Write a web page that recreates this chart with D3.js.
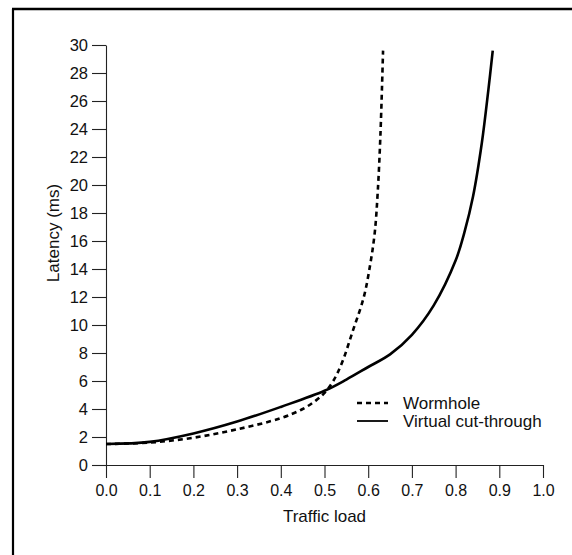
<!DOCTYPE html>
<html>
<head>
<meta charset="utf-8">
<script src="https://cdn.jsdelivr.net/npm/d3@7"></script>
<style>
  body { margin: 0; background: #fff; }
  svg { display: block; }
  text { font-family: "Liberation Sans", Arial, Helvetica, sans-serif; fill: #111; }
</style>
</head>
<body>
<div id="chart"></div>
<script>
  // values
  var loadVCT    = [0, 0.1, 0.2, 0.3, 0.4, 0.5, 0.55, 0.6, 0.65, 0.7, 0.75, 0.8, 0.82, 0.84, 0.86, 0.875, 0.885];
  var latencyVCT = [1.5, 1.65, 2.25, 3.1, 4.15, 5.3, 6.1, 7.0, 7.9, 9.3, 11.4, 14.6, 16.6, 19.2, 23.0, 26.8, 29.6];

  var loadWH    = [0, 0.1, 0.2, 0.3, 0.4, 0.45, 0.48, 0.5, 0.52, 0.54, 0.565, 0.59, 0.605, 0.615, 0.622, 0.628, 0.634];
  var latencyWH = [1.5, 1.6, 1.95, 2.55, 3.35, 4.0, 4.6, 5.15, 6.0, 7.3, 9.6, 12.0, 14.4, 16.6, 19.6, 23.6, 29.6];

  var xTicks = [0, 0.1, 0.2, 0.3, 0.4, 0.5, 0.6, 0.7, 0.8, 0.9, 1.0];
  var yTicks = [0, 2, 4, 6, 8, 10, 12, 14, 16, 18, 20, 22, 24, 26, 28, 30];

  var seriesNames = ["Wormhole", "Virtual cut-through"];

  var width = 572, height = 555;
  var svg = d3.select("#chart").append("svg")
    .attr("width", width)
    .attr("height", height);

  // frame (left + top edges of the scanned box)
  svg.append("line").attr("x1", 13).attr("y1", 9).attr("x2", 13).attr("y2", height)
    .attr("stroke", "#000").attr("stroke-width", 2.2);
  svg.append("line").attr("x1", 12).attr("y1", 9).attr("x2", width).attr("y2", 9)
    .attr("stroke", "#000").attr("stroke-width", 2.5);

  var x = d3.scaleLinear().domain([0, 1]).range([106, 543]);
  var y = d3.scaleLinear().domain([0, 30]).range([465, 45]);

  var xAxis = d3.axisBottom(x)
    .tickValues(xTicks)
    .tickFormat(d3.format(".1f"))
    .tickSize(13)
    .tickSizeOuter(0)
    .tickPadding(7);

  var yAxis = d3.axisLeft(y)
    .tickValues(yTicks)
    .tickSize(14)
    .tickSizeOuter(0)
    .tickPadding(4);

  var gx = svg.append("g").attr("transform", "translate(0," + y(0) + ")").call(xAxis);
  var gy = svg.append("g").attr("transform", "translate(" + x(0) + ",0)").call(yAxis);

  [gx, gy].forEach(function(g) {
    g.selectAll("path, line").attr("stroke", "#222").attr("stroke-width", 1.1);
  });
  gx.selectAll("text").attr("font-size", 16).attr("fill", "#111")
    .attr("font-family", "'Liberation Sans', Arial, sans-serif");
  gy.selectAll("text").attr("font-size", 16.5).attr("fill", "#111")
    .attr("font-family", "'Liberation Sans', Arial, sans-serif");

  // axis titles
  svg.append("text")
    .attr("x", 324.5).attr("y", 522)
    .attr("text-anchor", "middle")
    .attr("font-size", 17)
    .text("Traffic load");

  svg.append("text")
    .attr("transform", "translate(59,233) rotate(-90)")
    .attr("text-anchor", "middle")
    .attr("font-size", 17)
    .text("Latency (ms)");

  var line = d3.line()
    .x(function(d) { return x(d[0]); })
    .y(function(d) { return y(d[1]); })
    .curve(d3.curveCatmullRom.alpha(0.5));

  var vct = d3.zip(loadVCT, latencyVCT);
  var wh = d3.zip(loadWH, latencyWH);

  svg.append("path").datum(vct)
    .attr("d", line)
    .attr("fill", "none")
    .attr("stroke", "#000")
    .attr("stroke-width", 2.6);

  svg.append("path").datum(wh)
    .attr("d", line)
    .attr("fill", "none")
    .attr("stroke", "#000")
    .attr("stroke-width", 2.6)
    .attr("stroke-dasharray", "5,4");

  // legend
  var legend = svg.append("g");
  var legendRows = [
    { name: seriesNames[0], dash: "5,4", w: 2.4, ly: 403 },
    { name: seriesNames[1], dash: null,  w: 1.8, ly: 421 }
  ];
  legendRows.forEach(function(r) {
    legend.append("line")
      .attr("x1", 357).attr("x2", 388)
      .attr("y1", r.ly).attr("y2", r.ly)
      .attr("stroke", "#000")
      .attr("stroke-width", r.w)
      .attr("stroke-dasharray", r.dash);
    legend.append("text")
      .attr("x", 403).attr("y", r.ly + 5.5)
      .attr("font-size", 17)
      .text(r.name);
  });
</script>
</body>
</html>
